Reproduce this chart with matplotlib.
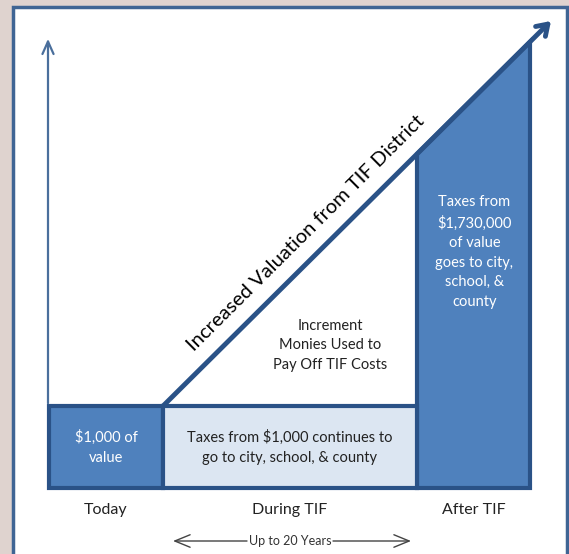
import matplotlib.pyplot as plt
from matplotlib.patches import Polygon, Rectangle

plt.rcParams['font.family'] = ['Lato', 'DejaVu Sans']

# Diagram layout in pixel units (x right, y down)
stage_labels = ["Today", "During TIF", "After TIF"]
stage_edges = [49, 163, 417, 530]
base_top = 406
base_bottom = 488
line_end = (551, 21)

box_texts = ["$1,000 of\nvalue",
             "Taxes from $1,000 continues to\ngo to city, school, & county",
             "Taxes from\n$1,730,000\nof value\ngoes to city,\nschool, &\ncounty"]
increment_text = "Increment\nMonies Used to\nPay Off TIF Costs"
diag_text = "Increased Valuation from TIF District"
span_text = "Up to 20 Years"

dark = '#2a5287'
mid = '#4f81bd'
light = '#dce6f2'

fig = plt.figure(figsize=(5.69, 5.54), dpi=100)
fig.patch.set_facecolor('#dfd3cf')
ax = fig.add_axes([0, 0, 1, 1])
ax.set_xlim(0, 569)
ax.set_ylim(554, 0)
ax.axis('off')

# white panel with blue frame
ax.add_patch(Rectangle((13.5, 7), 553.5, 560, facecolor='white',
                       edgecolor='#3f6594', lw=2.5, zorder=0))

# vertical axis
ax.annotate('', xy=(48, 36), xytext=(48, base_top),
            arrowprops=dict(arrowstyle='->,head_length=0.9,head_width=0.4',
                            color='#4a6f9c', lw=1.6))

# diagonal slope helper
x0, y0 = stage_edges[1], base_top
slope = (line_end[1] - y0) / (line_end[0] - x0)


def diag_y(x):
    return y0 + slope * (x - x0)


# after TIF block
xa, xb = stage_edges[2], stage_edges[3]
ax.add_patch(Polygon([(xa, diag_y(xa)), (xb, diag_y(xb)), (xb, base_bottom), (xa, base_bottom)],
                     closed=True, facecolor=mid, edgecolor=dark, lw=3, zorder=2))

# bottom boxes
ax.add_patch(Rectangle((stage_edges[0], base_top), stage_edges[1] - stage_edges[0],
                       base_bottom - base_top, facecolor=mid, edgecolor=dark, lw=3, zorder=2))
ax.add_patch(Rectangle((stage_edges[1], base_top), stage_edges[2] - stage_edges[1],
                       base_bottom - base_top, facecolor=light, edgecolor=dark, lw=3, zorder=2))

# growth line with arrow
ax.annotate('', xy=line_end, xytext=(x0, y0),
            arrowprops=dict(arrowstyle='->,head_length=0.75,head_width=0.5',
                            color=dark, lw=3.5, shrinkA=0, shrinkB=0), zorder=3)

mid_y = (base_top + base_bottom) / 2
ax.text((stage_edges[0] + stage_edges[1]) / 2, mid_y, box_texts[0], color='white',
        ha='center', va='center', fontsize=10.5, linespacing=1.55, zorder=4)
ax.text((stage_edges[1] + stage_edges[2]) / 2, mid_y, box_texts[1], color='#222222',
        ha='center', va='center', fontsize=10.5, linespacing=1.55, zorder=4)
ax.text((xa + xb) / 2 + 1, 252, box_texts[2], color='white',
        ha='center', va='center', fontsize=10.5, linespacing=1.5, zorder=4)
ax.text(330, 345, increment_text, color='#222222',
        ha='center', va='center', fontsize=10.5, linespacing=1.5, zorder=4)
ax.text(306, 233, diag_text, color='black', ha='center', va='center',
        fontsize=14.5, rotation=44.8, rotation_mode='anchor', zorder=4)

# stage labels
for i, lab in enumerate(stage_labels):
    cx = (stage_edges[i] + stage_edges[i + 1]) / 2
    ax.text(cx, 510, lab, color='#222222', ha='center', va='center', fontsize=11.5)

# duration arrow
ax.text(290, 541, span_text, color='#333333', ha='center', va='center', fontsize=9)
ax.annotate('', xy=(173, 541), xytext=(247, 541),
            arrowprops=dict(arrowstyle='->,head_length=1.1,head_width=0.45',
                            color='#444444', lw=1.0, shrinkA=0, shrinkB=0))
ax.annotate('', xy=(411, 541), xytext=(333, 541),
            arrowprops=dict(arrowstyle='->,head_length=1.1,head_width=0.45',
                            color='#444444', lw=1.0, shrinkA=0, shrinkB=0))

fig.savefig('out.png', dpi=100, facecolor=fig.get_facecolor())
